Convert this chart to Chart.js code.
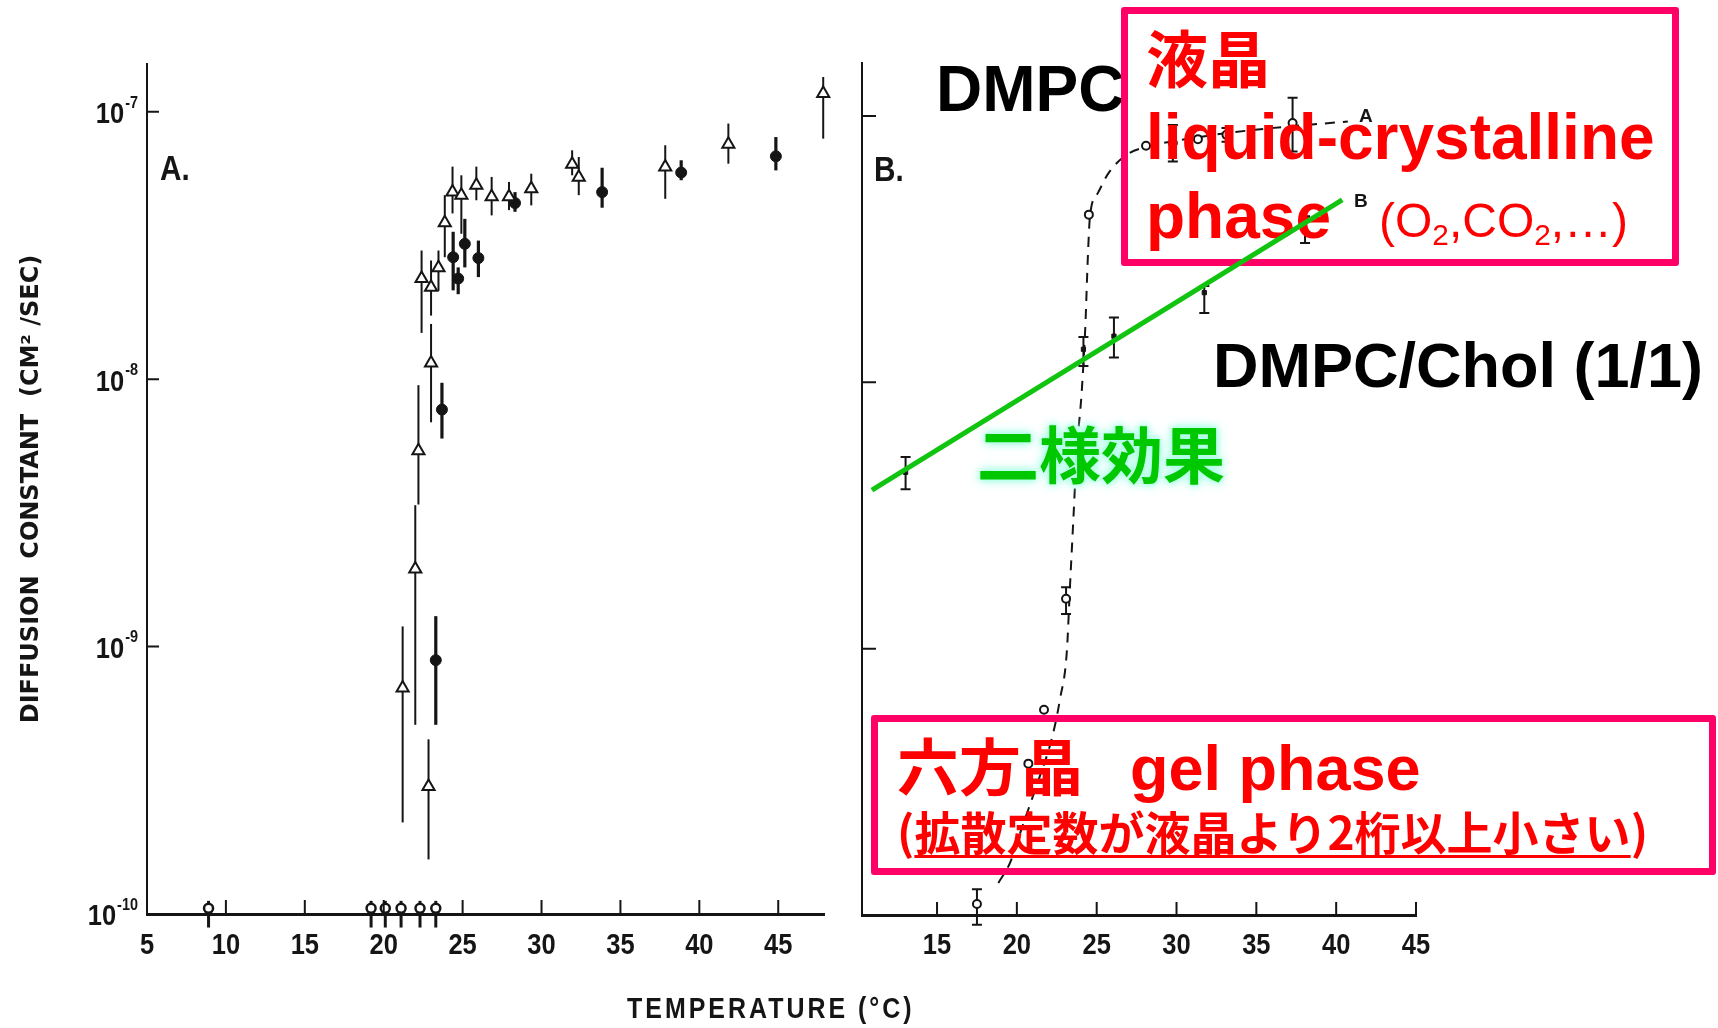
<!DOCTYPE html>
<html>
<head>
<meta charset="utf-8">
<script src="https://cdn.jsdelivr.net/npm/chart.js@4.4.1/dist/chart.umd.min.js"></script>
<style>
  html, body { margin: 0; padding: 0; background: #fff; }
  #stage { position: relative; width: 1718px; height: 1028px; overflow: hidden; background: #fff; }
  canvas { position: absolute; top: 0; }
  #cA { left: 0; z-index: 0; }
  #cB { left: 850px; z-index: 0; }
  #cC { left: 850px; z-index: 2; }
  .t { position: absolute; white-space: nowrap; line-height: 1; z-index: 1; }
  .scan { font-family: "Liberation Sans", Arial, sans-serif; font-weight: bold; color: #151515; transform-origin: 0 0; }
  .lat { font-family: "Liberation Sans", Arial, sans-serif; font-weight: bold; font-size: 64px; }
  .cjk { font-family: "Noto Sans CJK JP", sans-serif; font-weight: bold; font-size: 62px; }
  .red { color: #ff0000; }
  .blk { color: #000; }
  .grn { color: #00c800; text-shadow: 0 0 3px #c0ffee, 0 0 6px #a8ffe0, 0 0 9px #a8ffe0, 0 0 13px #b8fff0; }
  .box { position: absolute; box-sizing: border-box; border: 7px solid #ff0066; border-radius: 3px; z-index: 1; }
  sub { font-size: 0.62em; vertical-align: -0.28em; line-height: 0; }
  u { text-decoration-thickness: 3px; text-underline-offset: 5px; }
</style>
</head>
<body>
<div id="stage">
  <canvas id="cA" width="860" height="1028"></canvas>
  <canvas id="cB" width="868" height="1028"></canvas>
  <canvas id="cC" width="868" height="1028"></canvas>

  <div class="t scan" style="left:160px;top:150px;font-size:35px;transform:scaleX(0.85)">A.</div>
  <div class="t scan" style="left:874px;top:151px;font-size:35px;transform:scaleX(0.85)">B.</div>
  <div class="t scan" style="left:1359px;top:106px;font-size:19px">A</div>
  <div class="t scan" style="left:1354px;top:191px;font-size:19px">B</div>
  <div class="t scan" style="left:627px;top:994px;font-size:29px;letter-spacing:3.5px;transform:scaleX(0.86)">TEMPERATURE (°C)</div>

  <div class="t lat blk" style="left:936px;top:57px">DMPC</div>
  <div class="t lat blk" style="left:1213px;top:334px;font-size:63px">DMPC/Chol (1/1)</div>

  <div class="box" style="left:1121px;top:7px;width:558px;height:259px"></div>
  <div class="box" style="left:871px;top:715px;width:845px;height:160px"></div>

  <div class="t cjk red" style="left:1146px;top:25px">液晶</div>
  <div class="t lat red" style="left:1146px;top:105px">liquid-crystalline</div>
  <div class="t lat red" style="left:1146px;top:184px">phase</div>
  <div class="t lat red" style="left:1379px;top:197px;font-size:48px;font-weight:normal">(O<sub>2</sub>,CO<sub>2</sub>,…)</div>
  <div class="t cjk grn" style="left:977px;top:421px">二様効果</div>
  <div class="t cjk red" style="left:897px;top:733px">六方晶</div>
  <div class="t lat red" style="left:1130px;top:737px;font-size:63px">gel phase</div>
  <div class="t cjk red" style="left:897px;top:807px;font-size:46px">(<u>拡散定数が液晶より2桁以上小さい</u>)</div>
</div>

<script>
const FONT = '"DejaVu Sans", sans-serif';
const SCAN = '"Liberation Sans", Arial, sans-serif';
const INK = "#151515";
const GREEN = "#10c410";

// axes
const yTicks = [1e-10, 1e-9, 1e-8, 1e-7];
const yTickExps = ["-10", "-9", "-8", "-7"];
const aXTicks = [5, 10, 15, 20, 25, 30, 35, 40, 45];
const bXTicks = [15, 20, 25, 30, 35, 40, 45];

// panel A, DMPC - open symbols (T in °C, D in cm2/s, error bar low/high)
const aOpenT  = [21.2, 22.0, 22.2, 22.4, 22.84, 23.0, 23.0, 23.47, 23.87, 24.36, 24.92, 25.87, 26.84, 27.94, 29.35, 31.94, 32.36, 37.84, 41.84, 47.85];
const aOpenD  = [7.0e-10, 1.95e-9, 5.4e-9, 2.38e-8, 3.0e-10, 1.15e-8, 2.21e-8, 2.61e-8, 3.85e-8, 5.01e-8, 4.88e-8, 5.31e-8, 4.81e-8, 4.81e-8, 5.16e-8, 6.37e-8, 5.70e-8, 6.22e-8, 7.57e-8, 1.17e-7];
const aOpenLo = [2.2e-10, 5.1e-10, 3.4e-9, 1.49e-8, 1.6e-10, 6.9e-9, 1.73e-8, 2.14e-8, 2.86e-8, 4.17e-8, 3.50e-8, 4.67e-8, 4.10e-8, 4.29e-8, 4.47e-8, 5.79e-8, 4.88e-8, 4.73e-8, 6.40e-8, 7.94e-8];
const aOpenHi = [1.19e-9, 3.38e-9, 9.5e-9, 3.03e-8, 4.5e-10, 1.61e-8, 2.78e-8, 3.03e-8, 4.88e-8, 6.24e-8, 5.79e-8, 6.24e-8, 5.71e-8, 5.47e-8, 5.87e-8, 7.18e-8, 6.78e-8, 7.50e-8, 9.04e-8, 1.35e-7];

// panel A - filled symbols
const aFillT  = [23.3, 23.69, 24.40, 24.72, 25.14, 26.0, 28.32, 33.84, 38.85, 44.85];
const aFillD  = [8.9e-10, 7.7e-9, 2.86e-8, 2.38e-8, 3.21e-8, 2.84e-8, 4.56e-8, 5.01e-8, 5.93e-8, 6.82e-8];
const aFillLo = [5.1e-10, 6.0e-9, 2.15e-8, 2.08e-8, 2.62e-8, 2.41e-8, 4.23e-8, 4.38e-8, 5.55e-8, 6.04e-8];
const aFillHi = [1.30e-9, 9.7e-9, 3.56e-8, 2.62e-8, 3.98e-8, 3.30e-8, 5.01e-8, 6.18e-8, 6.59e-8, 8.05e-8];

// panel A - below detection limit
const aBaseT  = [8.9, 19.2, 20.1, 21.1, 22.3, 23.3];
const aBaseD  = [1.05e-10, 1.05e-10, 1.05e-10, 1.05e-10, 1.05e-10, 1.05e-10];
const aBaseLo = [8.9e-11, 8.9e-11, 8.9e-11, 8.9e-11, 8.9e-11, 8.9e-11];
const aBaseHi = [1.12e-10, 1.12e-10, 1.12e-10, 1.12e-10, 1.12e-10, 1.12e-10];

// panel B, DMPC (curve A)
const bDmpcT  = [17.5, 20.72, 21.7, 23.08, 24.51, 28.09, 29.77, 31.34, 33.13, 37.27];
const bDmpcD  = [1.1e-10, 3.7e-10, 5.9e-10, 1.54e-9, 4.26e-8, 7.73e-8, 7.91e-8, 8.18e-8, 8.49e-8, 9.40e-8];
const bDmpcLo = [9.2e-11, null, null, 1.35e-9, null, null, 6.75e-8, null, 8.0e-8, 7.35e-8];
const bDmpcHi = [1.25e-10, null, null, 1.7e-9, null, null, 9.25e-8, null, 9.0e-8, 1.17e-7];
const bCurveT = [18.84, 19.57, 20.31, 21.25, 22.19, 22.71, 23.13, 23.33, 23.54, 23.75, 24.06, 24.29, 24.44, 24.58, 25.07, 25.74, 26.86, 28.20, 31.48, 34.92, 40.73];
const bCurveD = [1.32e-10, 1.57e-10, 2.12e-10, 3.08e-10, 4.60e-10, 6.50e-10, 9.75e-10, 1.73e-9, 3.07e-9, 5.47e-9, 9.18e-9, 1.63e-8, 2.89e-8, 4.20e-8, 5.13e-8, 6.10e-8, 7.14e-8, 7.67e-8, 8.34e-8, 8.87e-8, 9.53e-8];

// panel B, DMPC/Chol 1:1 (curve B) and its straight fit
const bCholT  = [13.03, 24.17, 26.08, 31.74, 38.05];
const bCholD  = [4.59e-9, 1.33e-8, 1.49e-8, 2.17e-8, 3.69e-8];
const bCholLo = [3.97e-9, 1.15e-8, 1.24e-8, 1.82e-8, 3.33e-8];
const bCholHi = [5.24e-9, 1.48e-8, 1.75e-8, 2.30e-8, 4.20e-8];
const bFitT = [10.92, 40.38];
const bFitD = [3.94e-9, 4.84e-8];

const pts = (xs, ys) => xs.map((x, i) => ({ x, y: ys[i] }));

const errorBars = {
  id: "errorBars",
  beforeDatasetsDraw(chart) {
    const { ctx, scales: { x, y } } = chart;
    chart.data.datasets.forEach((ds) => {
      if (!ds.errLo) return;
      ctx.save();
      ctx.strokeStyle = INK;
      ctx.lineWidth = ds.errWidth || 2;
      ds.data.forEach((p, i) => {
        const lo = ds.errLo[i], hi = ds.errHi[i];
        if (lo == null) return;
        const px = x.getPixelForValue(p.x);
        const y0 = y.getPixelForValue(lo), y1 = y.getPixelForValue(hi);
        ctx.beginPath();
        ctx.moveTo(px, y0);
        ctx.lineTo(px, y1);
        if (ds.errCap) {
          ctx.moveTo(px - ds.errCap, y0); ctx.lineTo(px + ds.errCap, y0);
          ctx.moveTo(px - ds.errCap, y1); ctx.lineTo(px + ds.errCap, y1);
        }
        ctx.stroke();
      });
      ctx.restore();
    });
  },
};

// scanned-figure style: ticks point inwards, narrow lettering
function squeezeText(ctx, txt, x, y, size, align) {
  ctx.save();
  ctx.translate(x, y);
  ctx.scale(0.85, 1);
  ctx.font = `bold ${size}px ${SCAN}`;
  ctx.textAlign = align;
  ctx.textBaseline = "middle";
  ctx.fillText(txt, 0, 0);
  const w = ctx.measureText(txt).width * 0.85;
  ctx.restore();
  return w;
}

const innerTicks = {
  id: "innerTicks",
  afterDraw(chart, args, opts) {
    if (!opts.on) return;
    const { ctx, chartArea: a, scales: { x, y } } = chart;
    ctx.save();
    ctx.strokeStyle = INK;
    ctx.fillStyle = INK;
    ctx.lineWidth = 2;
    ctx.beginPath();
    x.ticks.forEach((t) => {
      const px = x.getPixelForValue(t.value);
      ctx.moveTo(px, a.bottom);
      ctx.lineTo(px, a.bottom - opts.xLen);
    });
    y.ticks.forEach((t) => {
      const py = y.getPixelForValue(t.value);
      ctx.moveTo(a.left, py);
      ctx.lineTo(a.left + opts.yLen, py);
    });
    ctx.stroke();
    x.ticks.forEach((t) => {
      squeezeText(ctx, String(t.value), x.getPixelForValue(t.value), a.bottom + opts.xLabelDy, 30, "center");
    });
    if (opts.yExps) {
      y.ticks.forEach((t, i) => {
        const py = y.getPixelForValue(t.value);
        const w = squeezeText(ctx, opts.yExps[i], a.left - 9, py - 9, 17, "right");
        squeezeText(ctx, "10", a.left - 10 - w, py + 3, 30, "right");
      });
    }
    ctx.restore();
  },
};

function panel(id, o) {
  return new Chart(document.getElementById(id), {
    type: "scatter",
    data: { datasets: o.datasets },
    plugins: [errorBars, innerTicks],
    options: {
      responsive: false, animation: false, events: [],
      layout: { padding: o.padding },
      plugins: {
        legend: { display: false }, tooltip: { enabled: false },
        innerTicks: { on: o.axes, xLen: o.xLen, yLen: o.yLen, xLabelDy: o.xLabelDy, yExps: o.yExps },
      },
      scales: {
        x: {
          type: "linear", min: o.xMin, max: o.xMax,
          afterBuildTicks: (s) => { s.ticks = o.xTicks.map((v) => ({ value: v })); },
          afterFit: (s) => { s.height = o.xHeight; },
          grid: { display: false, drawTicks: false },
          border: { display: o.axes, color: INK, width: 3 },
          ticks: { display: false },
        },
        y: {
          type: "logarithmic", min: 1e-10, max: o.yMax,
          afterBuildTicks: (s) => { s.ticks = yTicks.map((v) => ({ value: v })); },
          afterFit: (s) => { s.width = o.yWidth; },
          grid: { display: false, drawTicks: false },
          border: { display: o.axes, color: INK, width: 2 },
          ticks: { display: false },
          title: o.yTitle ? {
            display: true, text: o.yTitle, color: INK,
            font: { family: FONT, size: 24, weight: "bold" },
            padding: { top: 17, bottom: 0 },
          } : { display: false },
        },
      },
    },
  });
}

const openTri = { pointStyle: "triangle", pointRadius: 7, pointBackgroundColor: "#fff", pointBorderColor: INK, pointBorderWidth: 2, clip: false };

panel("cA", {
  axes: true, padding: { left: 0, top: 64, right: 36, bottom: 0 },
  xMin: 5, xMax: 47.9, xTicks: aXTicks, xHeight: 114, yWidth: 147, yMax: 1.51e-7,
  yExps: yTickExps, yTitle: "DIFFUSION  CONSTANT  (CM² /SEC)", xLen: 14, yLen: 12, xLabelDy: 32,
  datasets: [
    { label: "open", data: pts(aOpenT, aOpenD), errLo: aOpenLo, errHi: aOpenHi, errWidth: 2, ...openTri },
    { label: "filled", data: pts(aFillT, aFillD), errLo: aFillLo, errHi: aFillHi, errWidth: 3.2,
      pointStyle: "circle", pointRadius: 5.5, pointBackgroundColor: INK, pointBorderColor: INK, clip: false },
    { label: "below limit", data: pts(aBaseT, aBaseD), errLo: aBaseLo, errHi: aBaseHi, errWidth: 3,
      pointStyle: "circle", pointRadius: 4.5, pointBackgroundColor: "#fff", pointBorderColor: INK, pointBorderWidth: 2.5, clip: false },
  ],
});

const bLayout = {
  padding: { left: 0, top: 63, right: 302, bottom: 0 },
  xMin: 10.3, xMax: 45, xTicks: bXTicks, xHeight: 113, yWidth: 12, yMax: 1.58e-7, xLen: 13, yLen: 14, xLabelDy: 31,
};

panel("cB", {
  ...bLayout, axes: true,
  datasets: [
    { label: "DMPC curve", data: pts(bCurveT, bCurveD), showLine: true, borderColor: INK, borderWidth: 2,
      borderDash: [10, 8], pointRadius: 0, cubicInterpolationMode: "monotone", order: 3 },
    { label: "DMPC", data: pts(bDmpcT, bDmpcD), errLo: bDmpcLo, errHi: bDmpcHi, errWidth: 2, errCap: 5,
      pointStyle: "circle", pointRadius: 4, pointBackgroundColor: "#fff", pointBorderColor: INK, pointBorderWidth: 2,
      clip: false, order: 2 },
    { label: "DMPC/Chol", data: pts(bCholT, bCholD), errLo: bCholLo, errHi: bCholHi, errWidth: 2, errCap: 5,
      pointStyle: "rect", pointRadius: 3, pointBackgroundColor: INK, pointBorderColor: INK, clip: false, order: 1 },
  ],
});

panel("cC", {
  ...bLayout, axes: false,
  datasets: [
    { label: "fit", data: pts(bFitT, bFitD), showLine: true, borderColor: GREEN, borderWidth: 5,
      pointRadius: 0, clip: false },
  ],
});
</script>
</body>
</html>
